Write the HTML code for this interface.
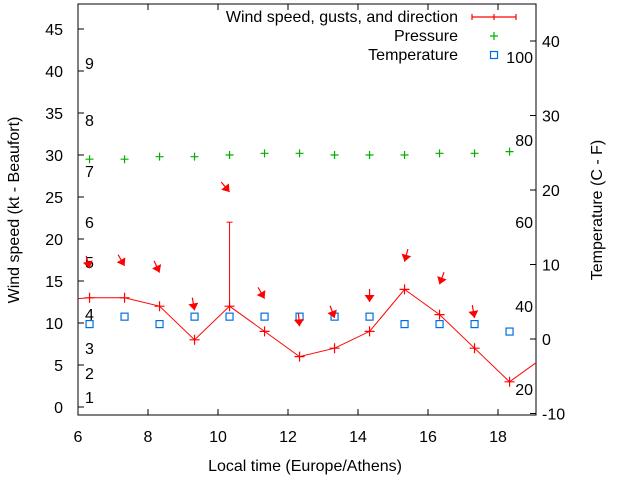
<!DOCTYPE html>
<html><head><meta charset="utf-8"><style>
body{margin:0;background:#fff;}
svg{display:block;font-family:"Liberation Sans",sans-serif;}
</style></head><body>
<svg id="chart" width="640" height="480" xmlns="http://www.w3.org/2000/svg"></svg>
<script>
const hours=[6.33,7.33,8.33,9.33,10.33,11.33,12.33,13.33,14.33,15.33,16.33,17.33,18.33];
const windSpeed=[13,13,12,8,12,9,6,7,9,14,11,7,3];
const windEdge=[[5.33,12.7],[19.33,6]];
const gustHour=10.33, gustLow=12, gustHigh=22;
const pressure=[29.5,29.5,29.8,29.8,30,30.2,30.2,30,30,30,30.2,30.2,30.4];
const temperature=[2,3,2,3,3,3,3,3,3,2,2,2,1];
const arrowHours=[6.33,7.33,8.33,9.33,10.33,11.33,12.33,13.33,14.33,15.33,16.33,17.33];
const arrowLevel=[16.5,16.8,16,11.5,25.6,12.9,9.6,10.6,12.5,17.3,14.6,10.6];
const arrowFrom=[345,330,335,350,320,330,355,340,0,15,20,350];
const xTicks=[6,8,10,12,14,16,18];
const yTicks=[0,5,10,15,20,25,30,35,40,45];
const y2Ticks=[-10,0,10,20,30,40];
const beaufort=[[1,397],[2,373],[3,348],[4,314],[5,262],[6,222],[7,171],[8,120],[9,63]];
const fahr=[[100,57],[80,140],[60,222],[40,306],[20,389]];

const L=78,R=536,T=4,B=415;
const X=h=>L+(h-6)*35;
const Y=v=>407-v*8.4;
const Y2=v=>339-v*7.45;
const svg=document.getElementById('chart');
const NS='http://www.w3.org/2000/svg';
function mk(tag,attrs,parent){const e=document.createElementNS(NS,tag);for(const k in attrs)e.setAttribute(k,attrs[k]);(parent||svg).appendChild(e);return e;}
function txt(x,y,s,anchor,name){const t=mk('text',{x:x,y:y,'font-size':16,'text-anchor':anchor||'start',fill:'#000'});t.textContent=s;


return t;}

const clip=mk('clipPath',{id:'pc'});mk('rect',{x:L,y:T,width:R-L,height:B-T},clip);

const fr=mk('rect',{x:L,y:T,width:R-L,height:B-T,fill:'none',stroke:'#000','stroke-width':1});


xTicks.forEach(h=>{const x=X(h);
 mk('line',{x1:x,y1:B,x2:x,y2:B-6,stroke:'#000'});mk('line',{x1:x,y1:T,x2:x,y2:T+6,stroke:'#000'});
 txt(x,442,String(h),'middle','x-tick-label');});
yTicks.forEach(v=>{const y=Y(v);mk('line',{x1:L,y1:y,x2:L+6,y2:y,stroke:'#000'});txt(63,y+6,String(v),'end','y-tick-label');});
y2Ticks.forEach(v=>{const y=Y2(v);mk('line',{x1:R,y1:y,x2:R-6,y2:y,stroke:'#000'});txt(542,y+6,String(v),'start','y2-tick-label');});
beaufort.forEach(b=>txt(85,b[1]+6,String(b[0]),'start','beaufort-label'));
fahr.forEach(f=>txt(533,f[1]+6,String(f[0]),'end','fahrenheit-label'));

txt(305,471,'Local time (Europe/Athens)','middle','x-axis-title');
const yt=txt(0,0,'Wind speed (kt - Beaufort)','middle','y-axis-title');yt.setAttribute('transform','translate(19,210) rotate(-90)');
const yt2=txt(0,0,'Temperature (C - F)','middle','y2-axis-title');yt2.setAttribute('transform','translate(602,210) rotate(-90)');

const g=mk('g',{'clip-path':'url(#pc)'});
const pts=[[windEdge[0][0],windEdge[0][1]]].concat(hours.map((h,i)=>[h,windSpeed[i]])).concat([[windEdge[1][0],windEdge[1][1]]]);
const pl=mk('polyline',{points:pts.map(p=>X(p[0])+','+Y(p[1])).join(' '),fill:'none',stroke:'#f00','stroke-width':1},g);


hours.forEach((h,i)=>{const x=X(h),y=Y(windSpeed[i]);
 const p=mk('path',{d:`M${x-5},${y}h10M${x},${y-5}v10`,stroke:'#f00','stroke-width':1.2},g);
 
 });
const gl=mk('line',{x1:X(gustHour),y1:Y(gustLow),x2:X(gustHour),y2:Y(gustHigh),stroke:'#f00'},g);


mk('line',{x1:X(gustHour)-3,y1:Y(gustHigh),x2:X(gustHour)+3,y2:Y(gustHigh),stroke:'#f00'},g);
hours.forEach((h,i)=>{const x=X(h),y=Y(pressure[i]);
 const p=mk('path',{d:`M${x-4},${y}h8M${x},${y-4}v8`,stroke:'#00b000','stroke-width':1.2},g);
 
 });
hours.forEach((h,i)=>{const x=X(h),y=Y2(temperature[i]);
 const r=mk('rect',{x:x-3.5,y:y-3.5,width:7,height:7,fill:'none',stroke:'#0070e0','stroke-width':1.2},g);
 
 });
arrowHours.forEach((h,i)=>{const hx=X(h),hy=Y(arrowLevel[i]);const a=arrowFrom[i]*Math.PI/180;
 const dx=-Math.sin(a),dy=Math.cos(a);
 const tx=hx-dx*13,ty=hy-dy*13;
 const px=-dy,py=dx;
 const ag=mk('g',{},g);
 
 
 mk('line',{x1:tx,y1:ty,x2:hx,y2:hy,stroke:'#f00','stroke-width':1.2},ag);
 const bx=hx-dx*7,by=hy-dy*7;
 mk('polygon',{points:`${hx},${hy} ${bx+px*5},${by+py*5} ${bx-px*5},${by-py*5}`,fill:'#f00'},ag);});

const lg=mk('g',{});


const l1=txt(458,22,'Wind speed, gusts, and direction','end','legend-wind-label');lg.appendChild(l1);
mk('path',{d:'M472,17h44M472,14v6M494,14v6M516,14v6',stroke:'#f00','stroke-width':1.2},lg);
const l2=txt(458,41,'Pressure','end','legend-pressure-label');lg.appendChild(l2);
mk('path',{d:'M490,36h8M494,32v8',stroke:'#00b000','stroke-width':1.2},lg);
const l3=txt(458,60,'Temperature','end','legend-temperature-label');lg.appendChild(l3);
mk('rect',{x:490.5,y:51.5,width:7,height:7,fill:'none',stroke:'#0070e0','stroke-width':1.2},lg);
</script>
</body></html>
